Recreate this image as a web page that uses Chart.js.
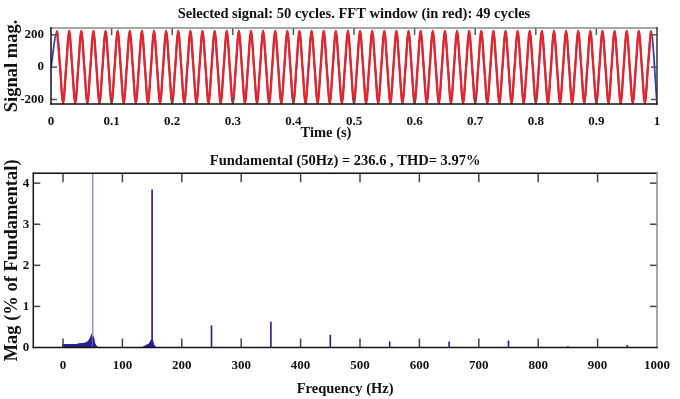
<!DOCTYPE html>
<html><head><meta charset="utf-8">
<script src="https://cdn.jsdelivr.net/npm/chart.js@4.4.1/dist/chart.umd.min.js"></script>
<style>
html,body{margin:0;padding:0;background:#fff;width:680px;height:399px;overflow:hidden}
#c1{position:absolute;left:0;top:0}
#c2{position:absolute;left:0;top:140px}
</style></head><body>
<canvas id="c1" width="680" height="140"></canvas>
<canvas id="c2" width="680" height="259"></canvas>
<script>
const FONT = "'Liberation Serif','Times New Roman',serif";

// ---------- top panel: time signal ----------
const signalTitle = 'Selected signal: 50 cycles. FFT window (in red): 49 cycles';
const timeLabel = 'Time (s)';
const signalLabel = 'Signal mag.';
const timeTicks = [0, 0.1, 0.2, 0.3, 0.4, 0.5, 0.6, 0.7, 0.8, 0.9, 1];
const signalTicks = [-200, 0, 200];
// red window: 49 cycles, peaks (50) and troughs (49)
const redStart = 0.01;          // s, first red peak
const quarterStep = 0.005;      // s, quarter period of 50 Hz
const redPeaks = [224,224,224,224,224,224,224,224,224,224,224,224,224,224,224,224,224,224,224,224,224,224,224,224,224,
                  224,224,224,224,224,224,224,224,224,224,224,224,224,224,224,224,224,224,224,224,224,224,224,224,224];
const redTroughs = [-224,-224,-224,-224,-224,-224,-224,-224,-224,-224,-224,-224,-224,-224,-224,-224,-224,-224,-224,-224,-224,-224,-224,-224,-224,
                    -224,-224,-224,-224,-224,-224,-224,-224,-224,-224,-224,-224,-224,-224,-224,-224,-224,-224,-224,-224,-224,-224,-224,-224];
const blueStartValue = 0;     // signal at t = 0
const blueEndValue = -226;    // signal at t = 1

// ---------- bottom panel: spectrum ----------
const fftTitle = 'Fundamental (50Hz) = 236.6 , THD= 3.97%';
const freqLabel = 'Frequency (Hz)';
const magLabel = 'Mag (% of Fundamental)';
const freqTicks = [0, 100, 200, 300, 400, 500, 600, 700, 800, 900, 1000];
const magTicks = [0, 1, 2, 3, 4];
const fftFreqs = [
  0,1,2,3,4,5,6,7,8,9,10,11,12,13,14,15,16,17,18,19,20,21,22,23,24,25,26,27,28,29,
  30,31,32,33,34,35,36,37,38,39,40,41,42,43,44,45,46,47,48,49,50,51,52,53,54,55,56,57,58,
  136,137,138,139,140,141,142,143,144,145,146,147,148,149,150,151,152,153,154,155,
  250,350,450,550,650,750,850,950];
const fftMags = [
  0.08,0.08,0.08,0.08,0.08,0.08,0.08,0.08,0.08,0.08,0.08,0.08,0.08,0.08,0.08,0.08,0.08,0.08,0.08,0.08,0.08,0.08,0.08,0.08,0.08,0.085,0.085,0.09,0.09,0.09,
  0.09,0.095,0.095,0.10,0.10,0.10,0.10,0.11,0.11,0.12,0.12,0.13,0.14,0.16,0.17,0.20,0.23,0.26,0.30,0.33,100,0.26,0.20,0.12,0.08,0.05,0.03,0.02,0.01,
  0.02,0.03,0.03,0.04,0.05,0.06,0.06,0.07,0.08,0.09,0.11,0.13,0.16,0.18,3.84,0.15,0.10,0.06,0.03,0.02,
  0.53,0.62,0.30,0.14,0.14,0.16,0.02,0.05];
const fundamentalFreq = 50;

// ---------- build series ----------
const redPts = [];
for (let i = 0; i < redPeaks.length; i++) {
  const t0 = redStart + i * 4 * quarterStep;
  redPts.push({x: t0, y: redPeaks[i]});
  if (i < redTroughs.length) {
    redPts.push({x: t0 + quarterStep, y: 0});
    redPts.push({x: t0 + 2 * quarterStep, y: redTroughs[i]});
    redPts.push({x: t0 + 3 * quarterStep, y: 0});
  }
}
const bluePts = [{x: 0, y: blueStartValue}, ...redPts, {x: 1, y: blueEndValue}];
const fftPts = fftFreqs.map((f, i) => ({x: f, y: fftMags[i]}));

const setTicks = arr => scale => { scale.ticks = arr.map(v => ({value: v})); };
const plainLabel = v => String(v);

function framePlugin(o) {
  return {
    id: 'frame',
    afterDraw(chart) {
      const {ctx, chartArea: a, scales: {x, y}} = chart;
      ctx.save();
      ctx.lineWidth = 1.5;
      ctx.strokeStyle = o.tickColor;
      const seg = (x1, y1, x2, y2) => { ctx.beginPath(); ctx.moveTo(x1, y1); ctx.lineTo(x2, y2); ctx.stroke(); };
      x.ticks.forEach(t => {
        const p = x.getPixelForValue(t.value);
        if (p <= a.left + 1 || p >= a.right - 1) return;
        seg(p, a.top, p, a.top + o.xLen);
        seg(p, a.bottom, p, a.bottom - o.xLen);
      });
      y.ticks.forEach(t => {
        const p = y.getPixelForValue(t.value);
        if (p <= a.top + 1 || p >= a.bottom - 1) return;
        seg(a.left, p, a.left + o.yLen, p);
        seg(a.right, p, a.right - o.yLen, p);
      });
      ctx.lineCap = 'square';
      ctx.strokeStyle = o.top; seg(a.left, a.top, a.right, a.top);
      ctx.strokeStyle = o.right; seg(a.right, a.top, a.right, a.bottom);
      ctx.strokeStyle = o.bottom; seg(a.left, a.bottom, a.right, a.bottom);
      ctx.strokeStyle = o.left; seg(a.left, a.top, a.left, a.bottom);
      if (o.extraText) {
        ctx.fillStyle = '#111';
        ctx.font = 'bold 14.5px ' + FONT;
        ctx.textAlign = 'center';
        ctx.textBaseline = 'middle';
        ctx.fillText(o.extraText, o.extraX, o.extraY);
      }
      ctx.restore();
    }
  };
}

const tickFont = {family: FONT, size: 13, weight: 'bold'};
const titleFont = {family: FONT, size: 14.5, weight: 'bold'};
const axisTitleFont = {family: FONT, size: 18.5, weight: 'bold'};

new Chart(document.getElementById('c1'), {
  type: 'line',
  data: {datasets: [
    {data: redPts, borderColor: '#e2262b', borderWidth: 2.3, pointRadius: 0, cubicInterpolationMode: 'monotone'},
    {data: bluePts, borderColor: '#3a3fb0', borderWidth: 1.8, pointRadius: 0, cubicInterpolationMode: 'monotone'}
  ]},
  options: {
    responsive: false, animation: false, devicePixelRatio: 1,
    layout: {padding: {left: 0, right: 23, top: 0, bottom: 0}},
    plugins: {
      legend: {display: false}, tooltip: {enabled: false},
      title: {display: true, fullSize: false, text: signalTitle, font: titleFont, color: '#111', padding: {top: 5.3, bottom: 5.3}}
    },
    scales: {
      x: {type: 'linear', min: 0, max: 1,
          afterBuildTicks: setTicks(timeTicks),
          afterFit: s => { s.height = 36; },
          grid: {display: false, drawTicks: false}, border: {display: false},
          ticks: {font: tickFont, color: '#111', padding: 9.5, maxRotation: 0, autoSkip: false, callback: plainLabel}},
      y: {type: 'linear', min: -228, max: 242,
          afterBuildTicks: setTicks(signalTicks),
          afterFit: s => { s.width = 51; },
          grid: {display: false, drawTicks: false}, border: {display: false},
          ticks: {font: tickFont, color: '#111', padding: 7, callback: plainLabel},
          title: {display: true, text: signalLabel, font: axisTitleFont, color: '#111', padding: {top: 1.4, bottom: 0}}}
    }
  },
  plugins: [framePlugin({tickColor: '#555', xLen: 7, yLen: 6, top: '#8a8a8a', right: '#333', bottom: '#111', left: '#111',
                         extraText: timeLabel, extraX: 326, extraY: 133})]
});

new Chart(document.getElementById('c2'), {
  type: 'bar',
  data: {datasets: [{
    data: fftPts, barThickness: 1, borderWidth: 0, grouped: false,
    backgroundColor: c => (c.raw && c.raw.x === fundamentalFreq) ? '#9a94d4' : '#2b2190'
  }]},
  options: {
    responsive: false, animation: false, devicePixelRatio: 1,
    layout: {padding: {left: 0, right: 15, top: 0, bottom: 0}},
    plugins: {
      legend: {display: false}, tooltip: {enabled: false},
      title: {display: true, fullSize: false, text: fftTitle, font: titleFont, color: '#111', padding: {top: 12.3, bottom: 3.6}}
    },
    scales: {
      x: {type: 'linear', min: -50, max: 1000, offset: false,
          afterBuildTicks: setTicks(freqTicks),
          afterFit: s => { s.height = 51.5; },
          grid: {display: false, drawTicks: false}, border: {display: false},
          ticks: {font: tickFont, color: '#111', padding: 10, maxRotation: 0, autoSkip: false, callback: plainLabel},
          title: {display: true, text: freqLabel, font: titleFont, color: '#111', padding: {top: 0, bottom: 1.5}}},
      y: {type: 'linear', min: 0, max: 4.24,
          afterBuildTicks: setTicks(magTicks),
          afterFit: s => { s.width = 33.3; },
          grid: {display: false, drawTicks: false}, border: {display: false},
          ticks: {font: tickFont, color: '#111', padding: 4, callback: plainLabel},
          title: {display: true, text: magLabel, font: axisTitleFont, color: '#111', padding: {top: 0.9, bottom: 0}}}
    }
  },
  plugins: [framePlugin({tickColor: '#444', xLen: 9, yLen: 7, top: '#111', right: '#8a8a8a', bottom: '#111', left: '#111'})]
});
</script>
</body></html>
